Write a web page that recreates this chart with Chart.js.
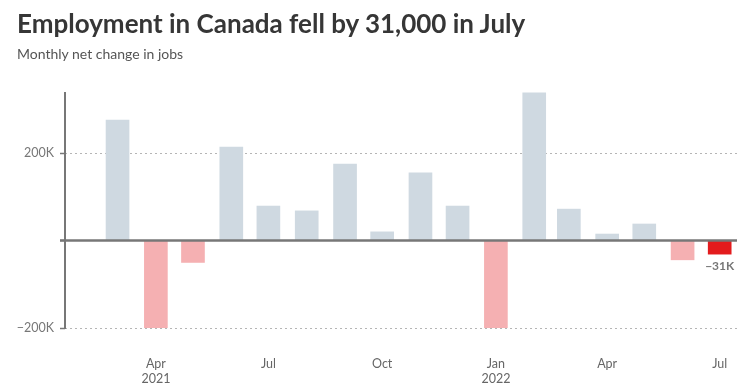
<!DOCTYPE html>
<html>
<head>
<meta charset="utf-8">
<script src="https://cdn.jsdelivr.net/npm/chart.js@4.4.0/dist/chart.umd.min.js"></script>
<style>
  html, body { margin: 0; padding: 0; background: #fff; }
  #wrap { position: relative; width: 753px; height: 391px; overflow: hidden; }
  #title { position: absolute; left: 17px; top: 7px; font-family: Lato, sans-serif; font-weight: 700; font-size: 26px; color: #363636; white-space: nowrap; }
  #subtitle { position: absolute; left: 17px; top: 45px; font-family: Lato, sans-serif; font-size: 14px; color: #555; white-space: nowrap; }
  canvas { position: absolute; left: 0; top: 0; }
</style>
</head>
<body>
<div id="wrap">
  <canvas id="c" width="753" height="391"></canvas>
  <div id="title">Employment in Canada fell by 31,000 in July</div>
  <div id="subtitle">Monthly net change in jobs</div>
</div>
<script>
// Data (thousands of jobs, monthly net change)
const months = ['2021-03','2021-04','2021-05','2021-06','2021-07','2021-08','2021-09','2021-10','2021-11','2021-12','2022-01','2022-02','2022-03','2022-04','2022-05','2022-06','2022-07'];
const jobs = [276, -200, -50, 214, 79, 68, 175, 20, 155, 79, -200, 338, 72, 15, 38, -44, -31];
const tickMonths = ['2021-04','2021-07','2021-10','2022-01','2022-04','2022-07'];
const tickLabels = [['Apr','2021'], ['Jul'], ['Oct'], ['Jan','2022'], ['Apr'], ['Jul']];
const yTicks = [-200, 0, 200];
const yTickLabels = ['\u2212200K', '', '200K'];
const lastLabel = '\u221231K';
const xStart = '2021-01-17T12:00:00Z';
const xEnd = '2022-07-15T00:00:00Z';

const toDay = s => Date.parse(s.length === 7 ? s + '-01T00:00:00Z' : s) / 86400000;

const points = months.map((m, i) => ({ x: toDay(m), y: jobs[i] }));
const colors = jobs.map((v, i) => i === jobs.length - 1 ? '#e31b1d' : (v < 0 ? '#f5b0b2' : '#cfd9e1'));

const zeroAndLabelPlugin = {
  id: 'zeroAndLabel',
  afterDatasetsDraw(chart) {
    const ctx = chart.ctx;
    const ys = chart.scales.y;
    const area = chart.chartArea;
    const y0 = ys.getPixelForValue(0);
    ctx.save();
    // zero line (solid) with its tick
    ctx.strokeStyle = '#777';
    ctx.lineWidth = 2.5;
    ctx.setLineDash([]);
    ctx.beginPath();
    ctx.moveTo(area.left - 5, y0);
    ctx.lineTo(area.right, y0);
    ctx.stroke();
    // y axis line (solid)
    ctx.lineWidth = 2;
    ctx.beginPath();
    ctx.moveTo(area.left, area.top);
    ctx.lineTo(area.left, area.bottom + 1);
    ctx.stroke();
    // label for latest value
    const meta = chart.getDatasetMeta(0);
    const el = meta.data[meta.data.length - 1];
    ctx.font = 'bold 12px Lato, sans-serif';
    ctx.fillStyle = '#777';
    ctx.textAlign = 'center';
    ctx.textBaseline = 'middle';
    ctx.fillText(lastLabel, el.x, el.y + 12);
    ctx.restore();
  }
};

new Chart(document.getElementById('c'), {
  type: 'bar',
  data: {
    datasets: [{
      data: points,
      backgroundColor: colors,
      borderWidth: 0,
      barThickness: 23
    }]
  },
  options: {
    responsive: false,
    animation: false,
    events: [],
    layout: { padding: { top: 92, right: 16, left: 0, bottom: 0 } },
    plugins: { legend: { display: false }, tooltip: { enabled: false }, title: { display: false } },
    scales: {
      x: {
        type: 'linear',
        offset: false,
        min: toDay(xStart),
        max: toDay(xEnd),
        afterBuildTicks(scale) {
          scale.ticks = tickMonths.map(m => ({ value: toDay(m) }));
        },
        afterFit(scale) { scale.height = 63; },
        grid: { display: false },
        border: { display: false },
        ticks: {
          autoSkip: false,
          maxRotation: 0,
          padding: 20,
          color: '#666',
          font: { family: 'Lato, sans-serif', size: 12.5 },
          callback(value) {
            const i = tickMonths.findIndex(m => Math.abs(toDay(m) - value) < 0.5);
            return i >= 0 ? tickLabels[i] : '';
          }
        }
      },
      y: {
        min: -200,
        max: 340,
        afterBuildTicks(scale) {
          scale.ticks = yTicks.map(v => ({ value: v }));
        },
        afterFit(scale) { scale.width = 65; },
        border: { display: false, dash: [2, 3] },
        grid: {
          drawTicks: true,
          tickLength: 5,
          color: ctx => ctx.tick && ctx.tick.value === 0 ? 'rgba(0,0,0,0)' : '#b5b5b5',
          lineWidth: 1,
          tickColor: '#777',
          tickWidth: 1.5,
          tickBorderDash: []
        },
        ticks: {
          padding: 6,
          color: '#777',
          font: { family: 'Lato, sans-serif', size: 12.5 },
          callback(value) {
            const i = yTicks.indexOf(value);
            return i >= 0 ? yTickLabels[i] : '';
          }
        }
      }
    }
  },
  plugins: [zeroAndLabelPlugin]
});
</script>
</body>
</html>
